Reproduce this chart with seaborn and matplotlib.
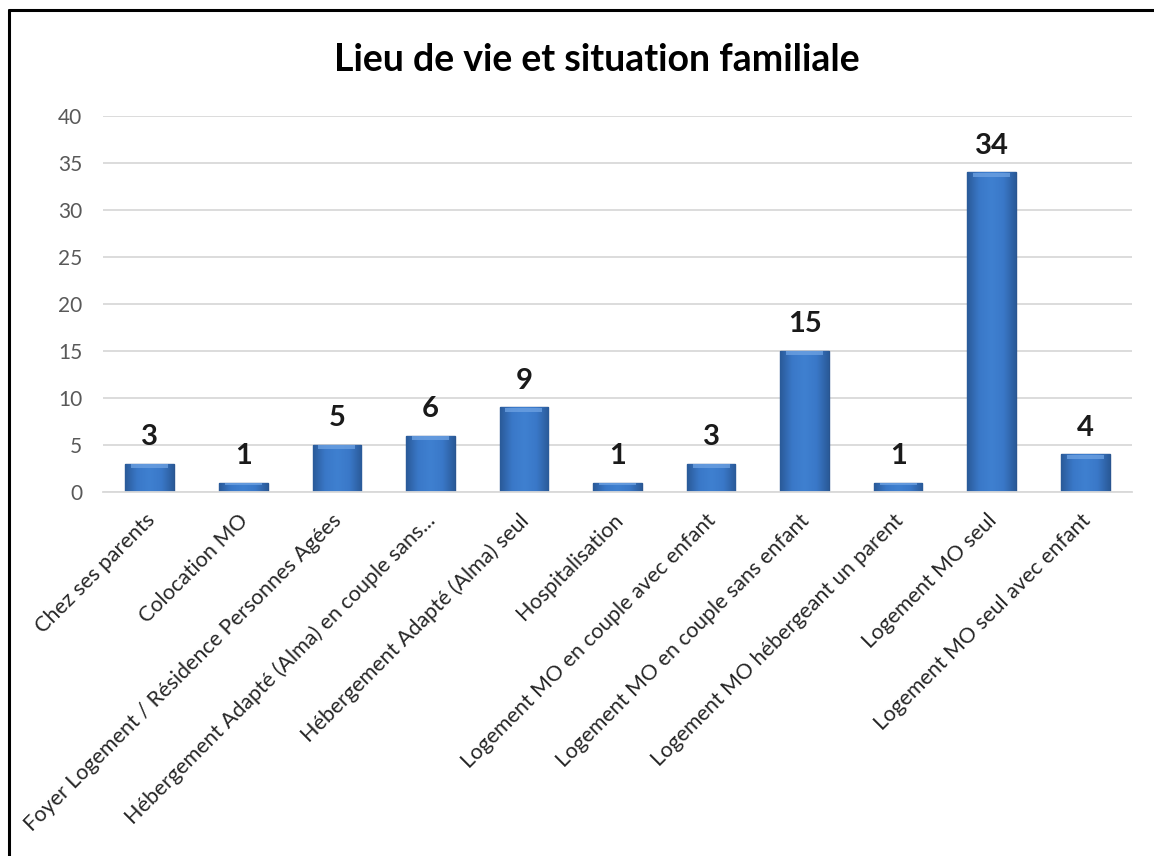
import matplotlib
matplotlib.use("Agg")
import matplotlib.pyplot as plt
import matplotlib.transforms as mtransforms
import seaborn as sns
import pandas as pd
import numpy as np
from matplotlib.lines import Line2D
from matplotlib.colors import LinearSegmentedColormap

categories = [
    "Chez ses parents",
    "Colocation MO",
    "Foyer Logement / Résidence Personnes Agées",
    "Hébergement Adapté (Alma) en couple sans...",
    "Hébergement Adapté (Alma) seul",
    "Hospitalisation",
    "Logement MO en couple avec enfant",
    "Logement MO en couple sans enfant",
    "Logement MO hébergeant un parent",
    "Logement MO seul",
    "Logement MO seul avec enfant",
]
values = [3, 1, 5, 6, 9, 1, 3, 15, 1, 34, 4]
yticks = [0, 5, 10, 15, 20, 25, 30, 35, 40]
title = "Lieu de vie et situation familiale"

sns.set_theme(style="white")
plt.rcParams["font.family"] = ["Lato", "DejaVu Sans"]

df = pd.DataFrame({"cat": categories, "val": values})

fig = plt.figure(figsize=(11.54, 8.56), dpi=100)
ax = fig.add_axes([103 / 1154, 1 - 492 / 856, (1132 - 103) / 1154, (492 - 116) / 856])

sns.barplot(data=df, x="cat", y="val", ax=ax, color="#3B78C6", width=0.52,
            edgecolor="#2A5590", linewidth=1.0, saturation=1)

# bevel-like gradient on each bar (clipped to the bar patch)
cmap = LinearSegmentedColormap.from_list(
    "bev", ["#2A5A98", "#3A78C8", "#3F80D0", "#3A78C8", "#2A5A98"])
grad = np.linspace(0, 1, 256).reshape(1, -1)
for p in list(ax.patches):
    x0, y0 = p.get_x(), p.get_y()
    w, h = p.get_width(), p.get_height()
    im = ax.imshow(grad, cmap=cmap, aspect="auto", extent=[x0, x0 + w, y0, y0 + h],
                   zorder=p.get_zorder() + 0.1, interpolation="bicubic")
    im.set_clip_path(p)
    # light top bevel
    ax.fill_between([x0 + w * 0.12, x0 + w * 0.88],
                    [y0 + h - min(0.45, h * 0.3)] * 2, [y0 + h - 0.05] * 2,
                    color="#6FA3E3", alpha=0.75, zorder=p.get_zorder() + 0.2, linewidth=0)
ax.set_xlim(-0.5, len(categories) - 0.5)

ax.set_ylim(0, 40)
ax.set_yticks(yticks)
ax.set_yticklabels([str(v) for v in yticks], color="#595959", fontsize=15)
ax.yaxis.grid(True, color="#D9D9D9", linewidth=1.3)
ax.set_axisbelow(True)
for s in ["top", "right", "left"]:
    ax.spines[s].set_visible(False)
ax.spines["bottom"].set_color("#D9D9D9")
ax.spines["bottom"].set_linewidth(1.3)
ax.tick_params(axis="y", length=0, pad=15)
ax.tick_params(axis="x", length=0, pad=6)
ax.set_xlabel("")
ax.set_ylabel("")
ax.set_xticks(range(len(categories)))
ax.set_xticklabels(categories, rotation=45, ha="right", va="center", rotation_mode="anchor",
                   fontsize=15.5, color="#262626")
offset = mtransforms.ScaledTranslation(2 / 100, -17 / 100, fig.dpi_scale_trans)
for lab in ax.get_xticklabels():
    lab.set_transform(lab.get_transform() + offset)

for i, v in enumerate(values):
    ax.annotate(str(v), (i, v), xytext=(0, 10), textcoords="offset points",
                ha="center", va="bottom", fontsize=21, fontweight="bold", color="#1a1a1a")

fig.text(597 / 1154, 1 - 60 / 856, title, ha="center", va="center",
         fontsize=27, fontweight="bold", color="black")

# frame lines (top and left)
fig.add_artist(Line2D([9 / 1154, 1.0], [1 - 10 / 856, 1 - 10 / 856], color="black", linewidth=2.2,
                      transform=fig.transFigure))
fig.add_artist(Line2D([9 / 1154, 9 / 1154], [0, 1 - 10 / 856], color="black", linewidth=2.2,
                      transform=fig.transFigure))

fig.savefig("out.png", dpi=100, facecolor="white")
